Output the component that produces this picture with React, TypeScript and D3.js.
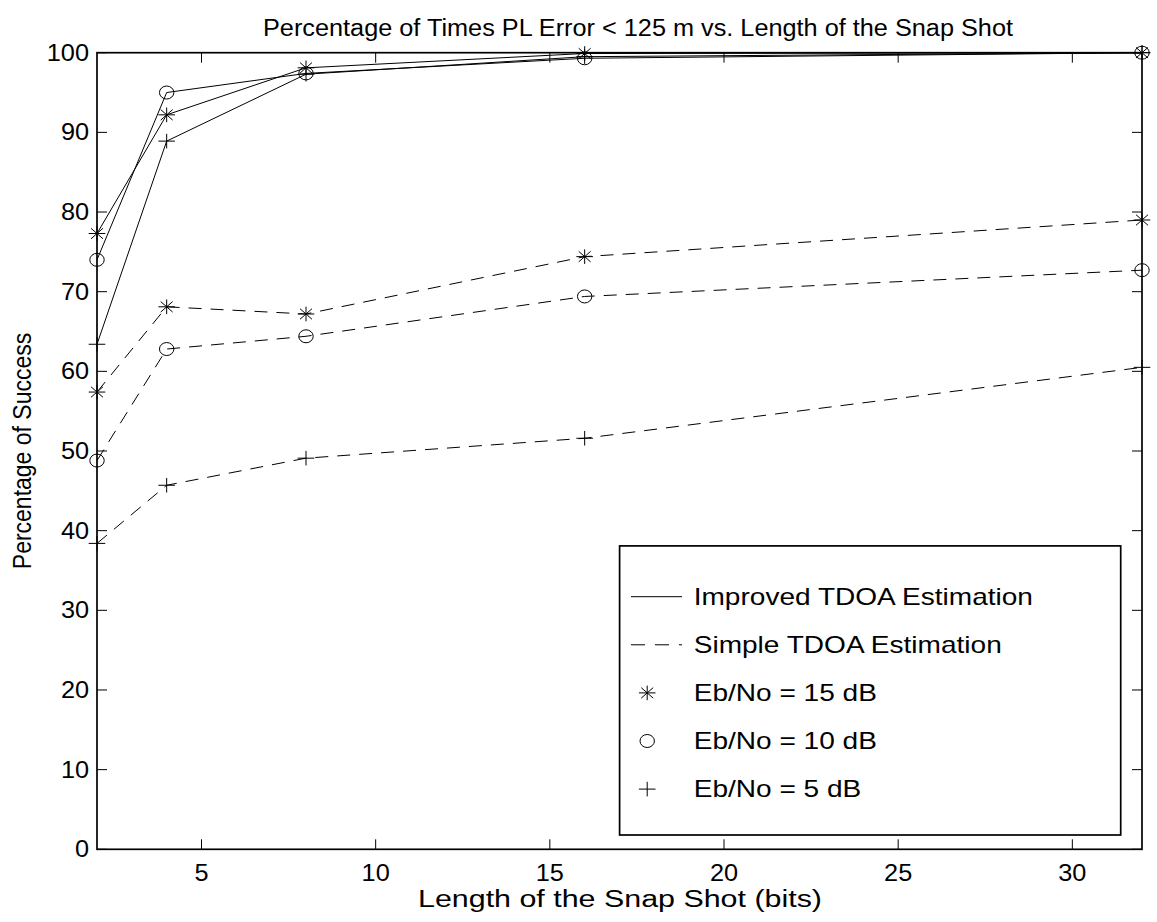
import React from "react";
import * as d3 from "d3";

const snapLengths = [2, 4, 8, 16, 32];
const improved15 = [77.3, 92.2, 98.1, 99.9, 100];
const improved10 = [74.0, 95.0, 97.4, 99.3, 100];
const improved5 = [63.4, 88.9, 97.3, 99.5, 100];
const simple15 = [57.4, 68.1, 67.2, 74.4, 79.0];
const simple10 = [48.8, 62.8, 64.4, 69.4, 72.7];
const simple5 = [38.4, 45.7, 49.1, 51.6, 60.5];
const xTicks = [5, 10, 15, 20, 25, 30];
const yTicks = [0, 10, 20, 30, 40, 50, 60, 70, 80, 90, 100];
const legendLines = ["Improved TDOA Estimation", "Simple TDOA Estimation"];
const legendMarkers = ["Eb/No = 15 dB", "Eb/No = 10 dB", "Eb/No = 5 dB"];

const W = 1157, H = 922;
const L = 97, R = 1142, T = 52.7, B = 849.3;
const FONT = "'Liberation Sans', Arial, Helvetica, sans-serif";
const SX = 1.15; // horizontal stretch of the original raster

type Mk = "star" | "circle" | "plus";

function Marker({ x, y, kind }: { x: number; y: number; kind: Mk }) {
  const rx = 8.3, ry = 7.3;
  if (kind === "circle") return <ellipse cx={x} cy={y} rx={7.2} ry={6.5} fill="none" stroke="#000" strokeWidth={1} />;
  if (kind === "plus")
    return (
      <path d={`M${x - rx},${y}H${x + rx}M${x},${y - ry}V${y + ry}`} stroke="#000" strokeWidth={1} fill="none" />
    );
  const dx = rx * 0.72, dy = ry * 0.72;
  return (
    <path
      d={`M${x - rx},${y}H${x + rx}M${x},${y - ry}V${y + ry}M${x - dx},${y - dy}L${x + dx},${y + dy}M${x - dx},${y + dy}L${x + dx},${y - dy}`}
      stroke="#000"
      strokeWidth={1}
      fill="none"
    />
  );
}

function SText({
  x,
  y,
  anchor,
  size,
  sx,
  children,
}: {
  x: number;
  y: number;
  anchor: "start" | "middle" | "end";
  size: number;
  sx: number;
  children: React.ReactNode;
}) {
  return (
    <text transform={`translate(${x},${y}) scale(${sx},1)`} textAnchor={anchor} fontSize={size}>
      {children}
    </text>
  );
}

export default function App() {
  const x = d3.scaleLinear().domain([2, 32]).range([L, R]);
  const y = d3.scaleLinear().domain([0, 100]).range([B, T]);
  const line = d3
    .line<number>()
    .x((_, i) => x(snapLengths[i]))
    .y((v) => y(v));

  const series: { data: number[]; dashed: boolean; mk: Mk }[] = [
    { data: improved15, dashed: false, mk: "star" },
    { data: improved10, dashed: false, mk: "circle" },
    { data: improved5, dashed: false, mk: "plus" },
    { data: simple15, dashed: true, mk: "star" },
    { data: simple10, dashed: true, mk: "circle" },
    { data: simple5, dashed: true, mk: "plus" },
  ];

  const tl = 10;
  const lgX = 619.6, lgY = 545.9, lgW = 1120.7 - 619.6, lgH = 835 - 545.9;
  const rowY = (i: number) => 604.7 + i * 48.1;
  const mkKinds: Mk[] = ["star", "circle", "plus"];

  return (
    <svg width={W} height={H} style={{ position: "absolute", left: 0, top: 0, background: "#fff" }} fontFamily={FONT}>
      <rect x={0} y={0} width={W} height={H} fill="#fff" />
      {/* title */}
      <text x={638} y={36} textAnchor="middle" fontSize={23} textLength={750} lengthAdjust="spacingAndGlyphs">
        Percentage of Times PL Error &lt; 125 m vs. Length of the Snap Shot
      </text>
      {/* ticks */}
      {xTicks.map((t) => (
        <g key={"x" + t}>
          <line x1={x(t)} x2={x(t)} y1={B} y2={B - tl} stroke="#000" strokeWidth={1} />
          <line x1={x(t)} x2={x(t)} y1={T} y2={T + tl} stroke="#000" strokeWidth={1} />
          <SText x={x(t)} y={881} anchor="middle" size={23} sx={1.1}>
            {t}
          </SText>
        </g>
      ))}
      {yTicks.map((t) => (
        <g key={"y" + t}>
          <line x1={L} x2={L + tl} y1={y(t)} y2={y(t)} stroke="#000" strokeWidth={1} />
          <line x1={R} x2={R - tl} y1={y(t)} y2={y(t)} stroke="#000" strokeWidth={1} />
          <SText x={89} y={y(t) + 8} anchor="end" size={23} sx={1.1}>
            {t}
          </SText>
        </g>
      ))}
      {/* axes box */}
      <rect x={L} y={T} width={R - L} height={B - T} fill="none" stroke="#000" strokeWidth={1.7} />
      {/* series */}
      {series.map((s, i) => (
        <g key={"s" + i}>
          <path
            d={line(s.data) || ""}
            fill="none"
            stroke="#000"
            strokeWidth={1}
            strokeDasharray={s.dashed ? "13,9" : undefined}
          />
          {s.data.map((v, j) => (
            <Marker key={j} x={x(snapLengths[j])} y={y(v)} kind={s.mk} />
          ))}
        </g>
      ))}
      {/* axis labels */}
      <text x={620} y={907} textAnchor="middle" fontSize={23} textLength={404} lengthAdjust="spacingAndGlyphs">
        Length of the Snap Shot (bits)
      </text>
      <text
        transform={`translate(31,${(T + B) / 2}) scale(${SX},1) rotate(-90)`}
        textAnchor="middle"
        fontSize={23}
      >
        Percentage of Success
      </text>
      {/* legend */}
      <rect x={lgX} y={lgY} width={lgW} height={lgH} fill="#fff" stroke="#000" strokeWidth={1.7} />
      {legendLines.map((t, i) => (
        <g key={"ll" + i}>
          <line
            x1={631}
            x2={682}
            y1={rowY(i) - 8}
            y2={rowY(i) - 8}
            stroke="#000"
            strokeWidth={1}
            strokeDasharray={i === 1 ? "14,10" : undefined}
          />
          <SText x={693.7} y={rowY(i)} anchor="start" size={23} sx={1.22}>
            {t}
          </SText>
        </g>
      ))}
      {legendMarkers.map((t, i) => (
        <g key={"lm" + i}>
          <Marker x={647.2} y={rowY(i + 2) - 8} kind={mkKinds[i]} />
          <SText x={693.7} y={rowY(i + 2)} anchor="start" size={23} sx={1.22}>
            {t}
          </SText>
        </g>
      ))}
    </svg>
  );
}
